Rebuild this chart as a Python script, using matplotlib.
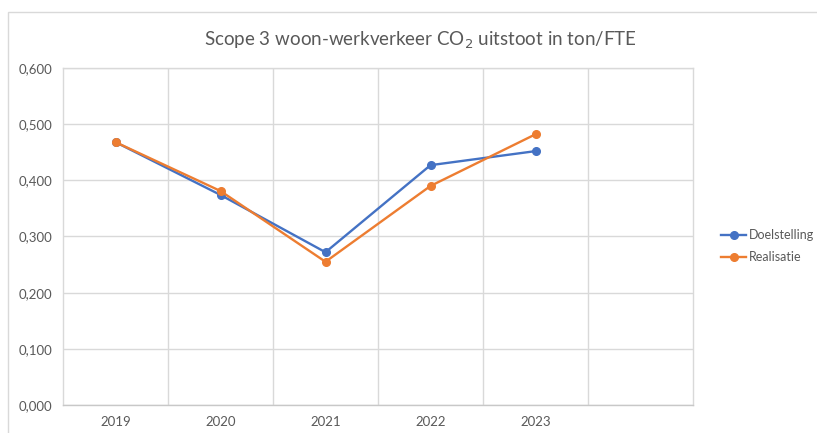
import matplotlib
matplotlib.use('Agg')
import matplotlib.pyplot as plt
from matplotlib.patches import Rectangle
from matplotlib.ticker import FuncFormatter

# ── data ──────────────────────────────────────────────────────────────────────
YEARS = ["2019", "2020", "2021", "2022", "2023", ""]
DOELSTELLING = [0.468, 0.374, 0.272, 0.427, 0.452]
REALISATIE   = [0.468, 0.381, 0.255, 0.390, 0.482]

BLUE, ORANGE = '#4472C4', '#ED7D31'
GRID, TXT = '#d9d9d9', '#595959'

plt.rcParams['font.family'] = ['Lato', 'DejaVu Sans']

fig = plt.figure(figsize=(8.17, 4.33), dpi=100, facecolor='white')
W, H = 817, 433

# chart area border (light grey frame, runs off the right/bottom)
fig.patches.append(Rectangle((8/W, -0.05), 1.0, 1 - 12/H + 0.05,
                             transform=fig.transFigure, fill=False,
                             edgecolor='#d9d9d9', lw=1.0))

ax = fig.add_axes([63/W, 1 - 405/H, (693 - 63)/W, (405 - 68)/H])

xs = range(len(DOELSTELLING))
ax.plot(xs, DOELSTELLING, color=BLUE, lw=1.7, marker='o', ms=5.5,
        label='Doelstelling', zorder=3)
ax.plot(xs, REALISATIE, color=ORANGE, lw=1.7, marker='o', ms=5.5,
        label='Realisatie', zorder=4)

ax.set_xlim(-0.5, len(YEARS) - 0.5)
ax.set_ylim(0, 0.6)
ax.set_yticks([0, 0.1, 0.2, 0.3, 0.4, 0.5, 0.6])
ax.yaxis.set_major_formatter(FuncFormatter(lambda v, p: f"{v:.3f}".replace('.', ',')))
ax.set_xticks(range(len(YEARS)))
ax.set_xticklabels(YEARS)

# vertical gridlines between categories
ax.set_xticks([i + 0.5 for i in range(len(YEARS) - 1)], minor=True)
ax.grid(axis='x', which='minor', color=GRID, lw=1.0)
ax.grid(axis='y', which='major', color=GRID, lw=1.0)
ax.set_axisbelow(True)

for s in ax.spines.values():
    s.set_color(GRID)
    s.set_linewidth(1.0)
ax.spines['bottom'].set_color('#c8c8c8')

ax.tick_params(which='both', length=0, colors=TXT, labelsize=9.5)
ax.tick_params(axis='y', pad=8)
ax.tick_params(axis='x', pad=8)

fig.text(420/W, 1 - 40/H,
         'Scope 3 woon-werkverkeer CO$_2$ uitstoot in ton/FTE',
         ha='center', va='center', color=TXT, fontsize=13.5)

ax.legend(loc='center left', bbox_to_anchor=(716/W, 1 - 246/H),
          bbox_transform=fig.transFigure, frameon=False, fontsize=9,
          labelcolor=TXT, handlelength=2.0, handletextpad=0.2,
          labelspacing=0.8, borderaxespad=0)

fig.savefig('out.png', dpi=100, facecolor='white')
